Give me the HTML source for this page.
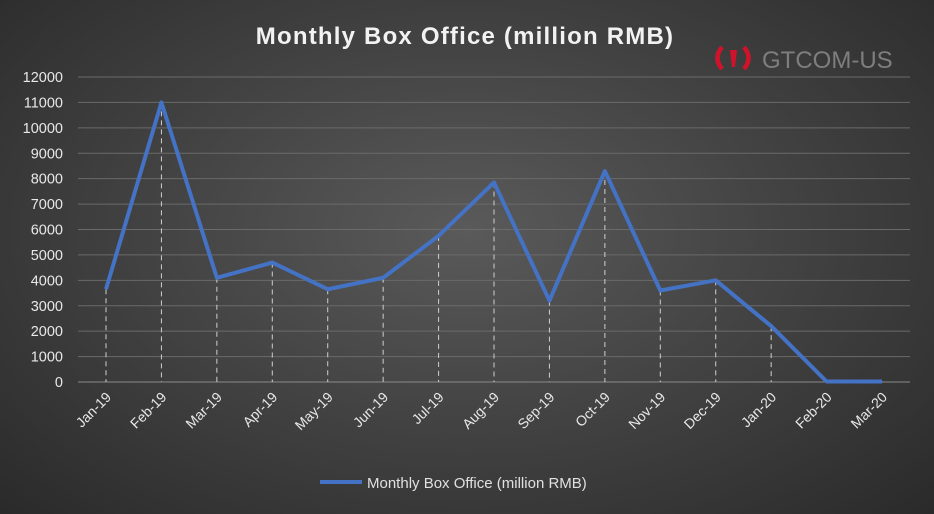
<!DOCTYPE html>
<html><head><meta charset="utf-8">
<style>
html,body{margin:0;padding:0;}
body{width:934px;height:514px;overflow:hidden;background:radial-gradient(ellipse at 50% 45%,#5a5a5a 0%,#444 45%,#2a2a2a 100%);font-family:"Liberation Sans",sans-serif;}
svg{display:block}
</style></head>
<body>
<svg id="chart" width="934" height="514">
<text x="465" y="44" text-anchor="middle" fill="#f2f2f2" font-size="24" font-weight="bold" letter-spacing="1.2">Monthly Box Office (million RMB)</text>
<g>
<path d="M722,47 Q713,58 722,69" stroke="#d0132b" stroke-width="4.5" fill="none"/>
<path d="M744,47 Q753,58 744,69" stroke="#d0132b" stroke-width="4.5" fill="none"/>
<path d="M730,50 L737,50 L735,67 L732,67Z" fill="#d0132b"/>
<text x="762" y="68" fill="#7e7e7e" font-size="24">GTCOM-US</text>
</g>
<g id="grid"></g><g id="drops"></g><g id="line"></g><g id="labels"></g>
<g>
<line x1="320" y1="482" x2="362" y2="482" stroke="#4472c4" stroke-width="4"/>
<text x="367" y="488" fill="#e0e0e0" font-size="15">Monthly Box Office (million RMB)</text>
</g>
</svg>
<script>
const categories=["Jan-19","Feb-19","Mar-19","Apr-19","May-19","Jun-19","Jul-19","Aug-19","Sep-19","Oct-19","Nov-19","Dec-19","Jan-20","Feb-20","Mar-20"];
const values=[3650,11000,4100,4700,3650,4100,5750,7850,3200,8300,3600,4000,2200,20,20];
const yTicks=[0,1000,2000,3000,4000,5000,6000,7000,8000,9000,10000,11000,12000];
const NS="http://www.w3.org/2000/svg";
const x0=106,dx=55.43,y0=382,yTop=77,yMax=12000;
const xs=i=>x0+i*dx, ys=v=>y0-(v/yMax)*(y0-yTop);
function mk(t,a,p){const e=document.createElementNS(NS,t);for(const k in a)e.setAttribute(k,a[k]);p.appendChild(e);return e;}
const grid=document.getElementById('grid'),lab=document.getElementById('labels'),drops=document.getElementById('drops'),lineG=document.getElementById('line');
yTicks.forEach(v=>{
 const l=mk('line',{x1:78,x2:910,y1:ys(v),y2:ys(v),stroke:v===0?'#8a8a8a':'#6a6a6a','stroke-width':1},grid);
 
 
 const t=mk('text',{x:63,y:ys(v)+5,'text-anchor':'end',fill:'#e8e8e8','font-size':14.5},lab);
 t.textContent=v;
 
 
});
categories.forEach((c,i)=>{
 const d=mk('line',{x1:xs(i),x2:xs(i),y1:ys(values[i]),y2:y0,stroke:'#cfcfcf','stroke-width':1,'stroke-dasharray':'5,4'},drops);
 
 
 const t=mk('text',{x:xs(i)+6,y:398,'text-anchor':'end',fill:'#e8e8e8','font-size':14,transform:`rotate(-45 ${xs(i)+6} 398)`},lab);
 t.textContent=c;
 
 
});
const p=mk('polyline',{points:values.map((v,i)=>xs(i)+','+ys(v)).join(' '),fill:'none',stroke:'#4472c4','stroke-width':4,'stroke-linejoin':'round'},lineG);


</script>
</body></html>
